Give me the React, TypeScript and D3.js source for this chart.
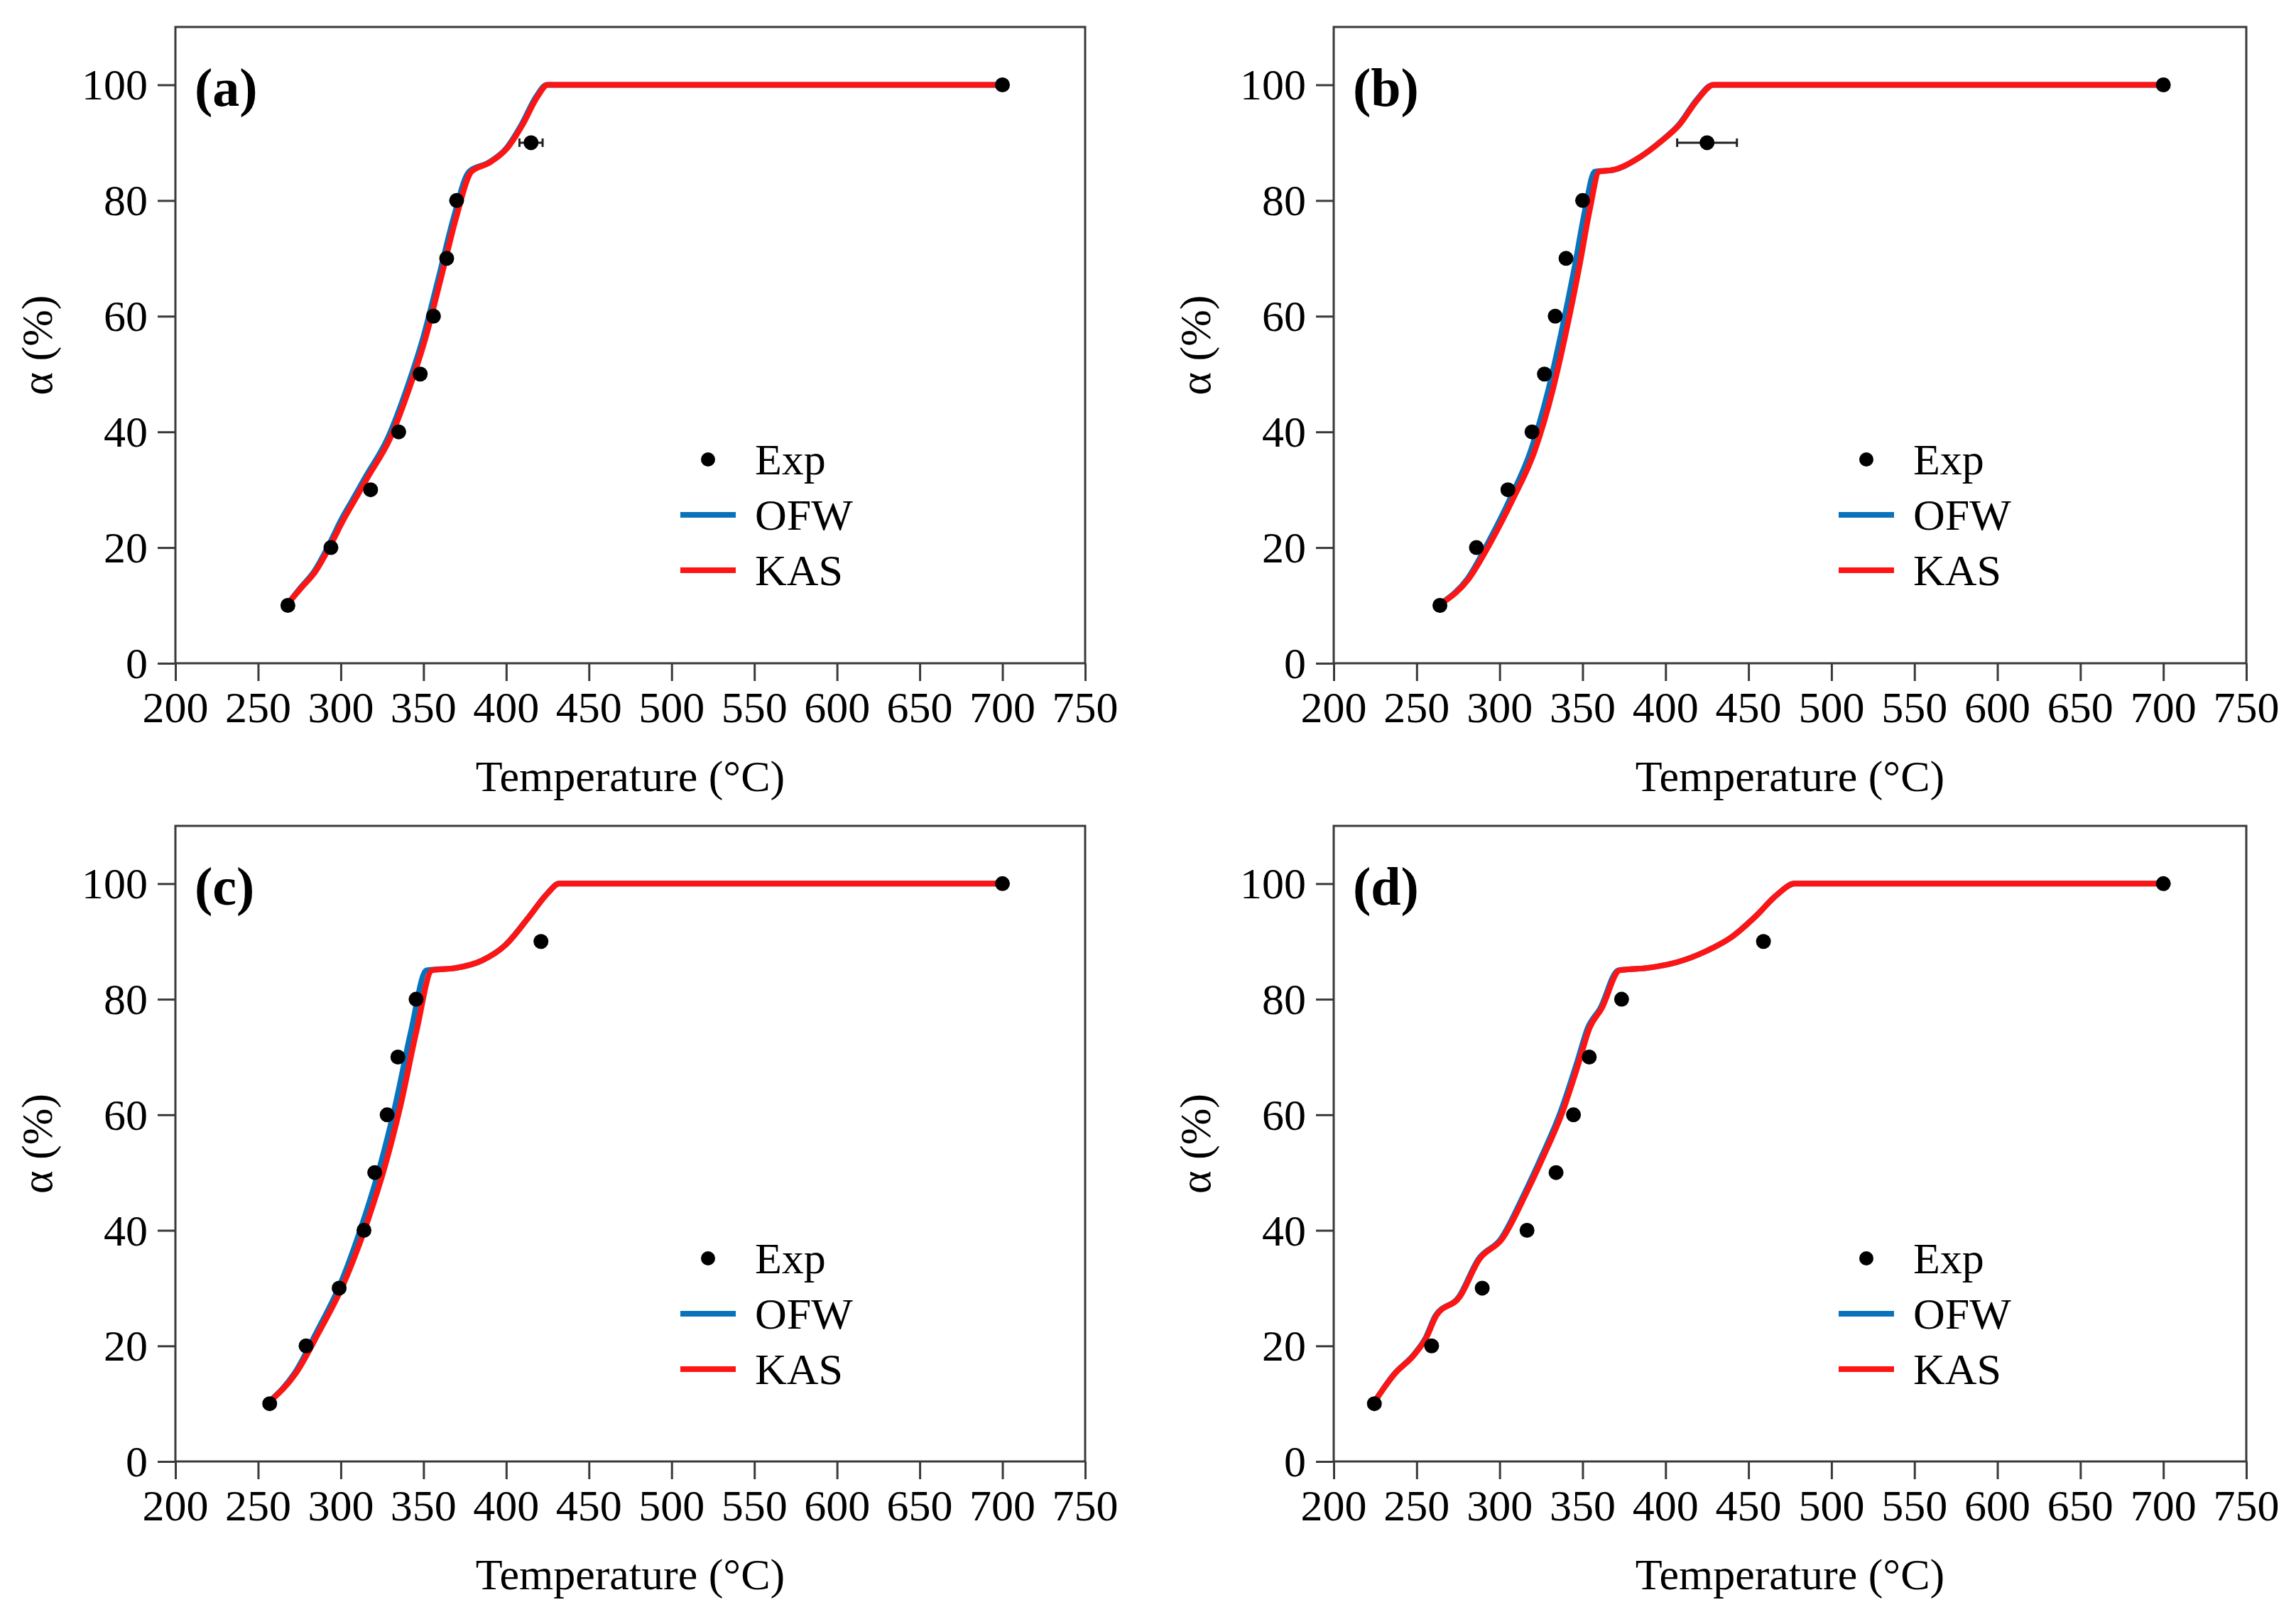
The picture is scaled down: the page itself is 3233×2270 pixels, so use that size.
import { useEffect, useRef } from 'react'
import * as d3 from 'd3'

// axis ticks
const X_TICKS = [200, 250, 300, 350, 400, 450, 500, 550, 600, 650, 700, 750]
const Y_TICKS = [0, 20, 40, 60, 80, 100]
const PANEL_LABELS = ['(a)', '(b)', '(c)', '(d)']

// experimental conversion levels (shared by all panels)
const EXP_ALPHA = [10, 20, 30, 40, 50, 60, 70, 80, 90, 100]

const EXP_TEMP_A = [268, 294, 318, 335, 348, 356, 364, 370, 415, 700]
const EXP_ERR_A = [2, 3, 2, 2, 2, 3, 3, 2, 7, 1]
const EXP_TEMP_B = [264, 286, 305, 319.5, 327, 333.5, 340, 350, 425, 700]
const EXP_ERR_B = [2, 2, 3, 3, 2, 2, 2, 2, 18, 1]
const EXP_TEMP_C = [257, 279, 299, 314, 320.5, 328, 334.5, 345.5, 421, 700]
const EXP_ERR_C = [2, 2, 3, 2, 2, 1, 1, 1, 3, 1]
const EXP_TEMP_D = [224.5, 259, 289.5, 316.5, 334, 344.5, 354, 373.5, 459, 700]
const EXP_ERR_D = [1, 1, 1, 1, 1, 1, 1, 1, 1, 1]

// model curves: alpha levels and temperatures per method
const CURVE_ALPHA_A = [10.3, 13, 16, 20, 25, 28, 32, 39, 48, 56, 66.5, 77, 85, 86.5, 89, 93, 98, 100, 100]
const KAS_A = [268, 276, 285, 293, 302, 308, 316, 330, 342, 351, 360.5, 369.7, 379, 389.7, 400.5, 409.7, 419, 425, 700]
const OFW_A = [268, 275.5, 284.2, 292, 300.6, 306.6, 314.5, 328.5, 340.5, 349.5, 359, 368.2, 377.6, 389, 400, 409, 418.2, 424.5, 700]

const CURVE_ALPHA_B = [10.3, 14.6, 20.6, 28.6, 36.6, 47.2, 57.2, 68.5, 78.5, 85, 85.3, 87.5, 90.2, 93.1, 97.5, 100, 100]
const KAS_B = [264.8, 281.4, 294, 308.4, 321, 332, 340, 348, 354.4, 360, 368.7, 384.6, 397.3, 408.4, 419.5, 429, 700]
const OFW_B = [264.5, 280.6, 292.6, 306.6, 318.6, 329.3, 337.2, 345.2, 351.6, 357.3, 368.7, 384.4, 397, 408, 419, 428.6, 700]

const CURVE_ALPHA_C = [10.5, 15.2, 22.5, 30.5, 41.1, 51.1, 61.7, 74.4, 85, 85.4, 86.7, 89.4, 94.3, 98.3, 100, 100]
const KAS_C = [257.6, 272.7, 287, 301.3, 315.6, 326.7, 336.2, 345.7, 355.2, 369.5, 385.4, 399.7, 414, 425, 432, 700]
const OFW_C = [257.3, 271.9, 285.6, 299.4, 313, 323.7, 333, 342.4, 351.8, 369.3, 385.2, 399.5, 413.8, 424.8, 431.8, 700]

const CURVE_ALPHA_D = [10.3, 15.2, 18.5, 21.5, 25.2, 28.5, 35, 38.5, 46.4, 53.1, 60.4, 69.1, 75, 78.4, 85, 85.4, 86.4, 88.4, 90.7, 94.3, 98, 100, 100]
const KAS_D = [224.5, 236.9, 248.7, 256, 261.8, 276, 287.8, 301.5, 316, 326.9, 337.8, 347.8, 354.2, 361.5, 372.4, 388.7, 406.9, 425.1, 439.6, 454.2, 466.9, 477.8, 700]
const OFW_D = [224.5, 236.6, 248.3, 255.6, 261.3, 275.5, 287.2, 300.7, 315, 325.8, 336.6, 346.7, 353.1, 360.6, 371.6, 388.6, 406.8, 425, 439.5, 454, 466.8, 477.6, 700]

const LEGEND_NAMES = ['Exp', 'OFW', 'KAS']

const PANELS = [
  { label: PANEL_LABELS[0], expT: EXP_TEMP_A, expErr: EXP_ERR_A, alpha: CURVE_ALPHA_A, kas: KAS_A, ofw: OFW_A },
  { label: PANEL_LABELS[1], expT: EXP_TEMP_B, expErr: EXP_ERR_B, alpha: CURVE_ALPHA_B, kas: KAS_B, ofw: OFW_B },
  { label: PANEL_LABELS[2], expT: EXP_TEMP_C, expErr: EXP_ERR_C, alpha: CURVE_ALPHA_C, kas: KAS_C, ofw: OFW_C },
  { label: PANEL_LABELS[3], expT: EXP_TEMP_D, expErr: EXP_ERR_D, alpha: CURVE_ALPHA_D, kas: KAS_D, ofw: OFW_D },
]

const W = 3233
const H = 2270
const BOXES = [
  { x0: 247, x1: 1528, y0: 38, y1: 934 },
  { x0: 1878, x1: 3163, y0: 38, y1: 934 },
  { x0: 247, x1: 1528, y0: 1163, y1: 2058 },
  { x0: 1878, x1: 3163, y0: 1163, y1: 2058 },
]

const FONT = 'Liberation Serif'
const AXIS_COLOR = '#3a3a3a'
const BLUE = '#0a72bb'
const RED = '#ff1414'
const FS = 62
const TICK = 25

export default function App() {
  const svgRef = useRef<SVGSVGElement>(null)

  useEffect(() => {
    if (!svgRef.current) return
    const svg = d3.select(svgRef.current)
    svg.selectAll('*').remove()
    svg.append('rect').attr('width', W).attr('height', H).attr('fill', '#fff')

    PANELS.forEach((p, i) => {
      const b = BOXES[i]
      const x = d3.scaleLinear().domain([200, 750]).range([b.x0, b.x1])
      const y = d3.scaleLinear().domain([0, 110]).range([b.y1, b.y0])
      const g = svg.append('g')

      // frame
      g.append('rect')
        .attr('x', b.x0).attr('y', b.y0)
        .attr('width', b.x1 - b.x0).attr('height', b.y1 - b.y0)
        .attr('fill', 'none').attr('stroke', AXIS_COLOR).attr('stroke-width', 3)

      // bottom axis (tick marks from d3, labels drawn below in serif)
      const xa = g.append('g')
        .attr('transform', `translate(0,${b.y1})`)
        .call(d3.axisBottom(x).tickValues(X_TICKS).tickSize(TICK).tickFormat(() => ''))
      xa.select('.domain').remove()
      xa.selectAll('line').attr('stroke', AXIS_COLOR).attr('stroke-width', 3)

      const ya = g.append('g')
        .attr('transform', `translate(${b.x0},0)`)
        .call(d3.axisLeft(y).tickValues(Y_TICKS).tickSize(TICK).tickFormat(() => ''))
      ya.select('.domain').remove()
      ya.selectAll('line').attr('stroke', AXIS_COLOR).attr('stroke-width', 3)

      const txt = g.append('g').attr('font-family', FONT).attr('fill', '#000')

      X_TICKS.forEach(v => {
        txt.append('text')
          .attr('x', x(v)).attr('y', b.y1 + 83)
          .attr('text-anchor', 'middle').attr('font-size', FS)
          .text(String(v))
      })
      Y_TICKS.forEach(v => {
        txt.append('text')
          .attr('x', b.x0 - TICK - 14).attr('y', y(v) + 21)
          .attr('text-anchor', 'end').attr('font-size', FS)
          .text(String(v))
      })

      // axis titles
      txt.append('text')
        .attr('x', (b.x0 + b.x1) / 2).attr('y', b.y1 + 180)
        .attr('text-anchor', 'middle').attr('font-size', FS)
        .text('Temperature (°C)')
      txt.append('text')
        .attr('transform', `translate(${b.x0 - 174},${(b.y0 + b.y1) / 2}) rotate(-90)`)
        .attr('text-anchor', 'middle').attr('font-size', FS)
        .text('α (%)')

      // panel label
      txt.append('text')
        .attr('x', b.x0 + 27).attr('y', b.y0 + 111)
        .attr('font-size', 76).attr('font-weight', 'bold')
        .text(p.label)

      // model curves
      const line = d3.line<[number, number]>()
        .x(d => x(d[0])).y(d => y(d[1]))
        .curve(d3.curveMonotoneX)
      const ofwPts = p.ofw.map((t, k) => [t, p.alpha[k]] as [number, number])
      const kasPts = p.kas.map((t, k) => [t, p.alpha[k]] as [number, number])
      g.append('path').attr('d', line(ofwPts)).attr('fill', 'none')
        .attr('stroke', BLUE).attr('stroke-width', 8).attr('stroke-linejoin', 'round')
      g.append('path').attr('d', line(kasPts)).attr('fill', 'none')
        .attr('stroke', RED).attr('stroke-width', 8).attr('stroke-linejoin', 'round')

      // experimental points with horizontal error bars
      p.expT.forEach((t, k) => {
        const cy = y(EXP_ALPHA[k])
        const e = p.expErr[k]
        const xl = x(t - e)
        const xr = x(t + e)
        g.append('line').attr('x1', xl).attr('x2', xr).attr('y1', cy).attr('y2', cy)
          .attr('stroke', '#222').attr('stroke-width', 3)
        ;[xl, xr].forEach(xx => {
          g.append('line').attr('x1', xx).attr('x2', xx).attr('y1', cy - 6).attr('y2', cy + 6)
            .attr('stroke', '#222').attr('stroke-width', 3)
        })
        g.append('circle').attr('cx', x(t)).attr('cy', cy).attr('r', 10.5).attr('fill', '#000')
      })

      // legend
      const lx = b.x0
      const rows = [b.y0 + 609, b.y0 + 687, b.y0 + 765]
      g.append('circle').attr('cx', lx + 750).attr('cy', rows[0]).attr('r', 10).attr('fill', '#000')
      g.append('line').attr('x1', lx + 711).attr('x2', lx + 789).attr('y1', rows[1]).attr('y2', rows[1])
        .attr('stroke', BLUE).attr('stroke-width', 8)
      g.append('line').attr('x1', lx + 711).attr('x2', lx + 789).attr('y1', rows[2]).attr('y2', rows[2])
        .attr('stroke', RED).attr('stroke-width', 8)
      LEGEND_NAMES.forEach((name, k) => {
        txt.append('text').attr('x', lx + 816).attr('y', rows[k] + 21)
          .attr('font-size', FS).text(name)
      })
    })
  }, [])

  return (
    <svg
      ref={svgRef}
      width={W}
      height={H}
      style={{ position: 'absolute', left: 0, top: 0 }}
    />
  )
}
